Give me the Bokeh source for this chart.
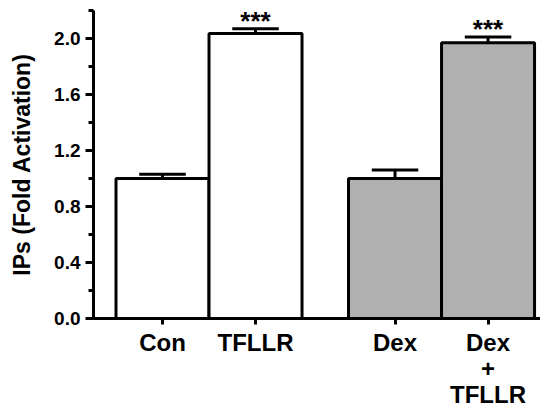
import numpy as np
from bokeh.plotting import figure
from bokeh.models import Range1d, FixedTicker, SingleIntervalTicker, ColumnDataSource, CustomJSTickFormatter
from bokeh.core.properties import value
from bokeh.embed import file_html
from bokeh.resources import INLINE

# data
categories = ["Con", "TFLLR", "Dex", "Dex\n+\nTFLLR"]
positions = [1.0, 2.0, 3.5, 4.5]
means = [1.00, 2.035, 1.00, 1.97]
errors = [0.03, 0.035, 0.06, 0.04]
fills = ["white", "white", "#b0b0b0", "#b0b0b0"]
stars = ["", "***", "", "***"]

FONT = "Liberation Sans"
LW = 3

p = figure(width=540, height=411, output_backend="svg", toolbar_location=None,
           x_range=Range1d(0.258, 5.064), y_range=Range1d(0, 2.2),
           min_border_left=93, min_border_right=0, min_border_top=10, min_border_bottom=91)
p.outline_line_color = None
p.xgrid.visible = False
p.ygrid.visible = False
p.background_fill_color = "white"
p.border_fill_color = "white"

x = np.array(positions)
m = np.array(means)
e = np.array(errors)
src = ColumnDataSource(dict(x=x, top=m, fill=fills, hi=m + e, cl=x - 0.25, cr=x + 0.25, star=stars))

p.vbar(x="x", top="top", width=1.0, bottom=0, fill_color="fill", line_color="black",
       line_width=LW, source=src)
p.segment(x0="x", y0="top", x1="x", y1="hi", line_color="black", line_width=LW, source=src)
p.segment(x0="cl", y0="hi", x1="cr", y1="hi", line_color="black", line_width=LW, source=src)
p.text(x="x", y="hi", text="star", text_align="center", text_baseline="alphabetic",
       text_font=value(FONT), text_font_size="26px", text_font_style="bold",
       text_color="black", y_offset=-8, source=src)

# y axis
ya = p.yaxis[0]
ya.ticker = SingleIntervalTicker(interval=0.4, num_minor_ticks=2)
ya.formatter = CustomJSTickFormatter(code="return tick.toFixed(1);")
ya.axis_line_width = LW
ya.major_tick_line_width = LW
ya.minor_tick_line_width = LW
ya.major_tick_out = 8
ya.major_tick_in = 0
ya.minor_tick_out = 5
ya.minor_tick_in = 0
ya.major_label_text_font = FONT
ya.major_label_text_font_style = "bold"
ya.major_label_text_font_size = "19px"
ya.major_label_text_color = "black"
ya.major_label_standoff = 5
ya.axis_label = "IPs (Fold Activation)"
ya.axis_label_text_font = FONT
ya.axis_label_text_font_style = "bold"
ya.axis_label_text_font_size = "23px"
ya.axis_label_text_color = "black"
ya.axis_label_standoff = 16

# x axis
xa = p.xaxis[0]
xa.ticker = FixedTicker(ticks=positions, minor_ticks=[])
xa.major_label_overrides = {pos: lab for pos, lab in zip(positions, categories)}
xa.axis_line_width = LW
xa.major_tick_line_width = LW
xa.major_tick_out = 6
xa.major_tick_in = 0
xa.minor_tick_line_color = None
xa.major_label_text_font = FONT
xa.major_label_text_font_style = "bold"
xa.major_label_text_font_size = "24px"
xa.major_label_text_color = "black"
xa.major_label_text_line_height = 0.98
xa.major_label_standoff = 4

open("out.html", "w").write(file_html(p, INLINE))
